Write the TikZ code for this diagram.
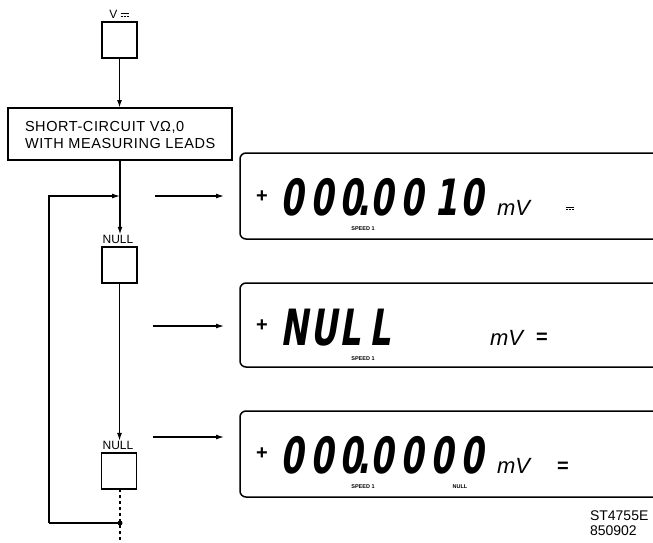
\documentclass[tikz,border=0pt]{standalone}
\usepackage{fontspec}
\setmainfont{Liberation Sans}
\newfontfamily\lcdfont{DejaVu Sans}[FakeStretch=0.66,FakeSlant=0.16]
\usetikzlibrary{arrows.meta,positioning}

% one digit place of the display
\newcommand\lcdcell[2][l]{\makebox[30pt][#1]{#2}}
% direct current sign
\newcommand\dcsym{\raisebox{1.5pt}{\vbox{\hrule width 8pt height 1pt\kern1.4pt
  \hbox to 8pt{\vrule width 2pt height 1pt\hfil\vrule width 2pt height 1pt\hfil\vrule width 2pt height 1pt}}}}

\begin{document}
\begin{tikzpicture}[x=1pt,y=-1pt,
    every node/.style={inner sep=0pt, outer sep=0pt},
    key/.style={draw, line width=1.8pt, minimum width=35pt, minimum height=36pt},
    flow/.style={line width=1.8pt},
    link/.style={line width=1.2pt},
    tip/.style={-{Latex[length=8pt,width=5pt]}},
    frame/.style={line width=1.5pt, rounded corners=6pt},
    keylbl/.style={font=\fontsize{12}{12}\selectfont},
    lcd/.style={font=\lcdfont\bfseries\fontsize{50}{50}\selectfont, anchor=base west, text depth=0pt},
    unit/.style={font=\itshape\fontsize{22}{22}\selectfont, anchor=base west, text depth=0pt},
    sign/.style={font=\bfseries\fontsize{20}{20}\selectfont},
    tag/.style={font=\bfseries\fontsize{5.5}{5.5}\selectfont},
]
\useasboundingbox (0,0) rectangle (653,542);

% === Keys and steps (left column) ===
\node[keylbl] (vlbl) at (119,14) {V\hspace{3pt}\dcsym};
\node[key] (keyV) at (119.5,40) {};
\node[draw, line width=1.5pt, minimum width=224pt, minimum height=52pt] (scbox) at (120,134) {};
\node[font=\fontsize{14.5}{17}\selectfont\addfontfeatures{LetterSpace=4}, align=left, anchor=west] (sctext) at (25,135)
    {SHORT-CIRCUIT VΩ,0\\WITH MEASURING LEADS};
\node[keylbl] (nullB) at (118,239) {NULL};
\node[key] (keyB) at (119.5,265) {};
\node[keylbl] (nullC) at (118,445) {NULL};
\node[key] (keyC) at (119,471) {};

\coordinate (joinA) at (120,196);
\coordinate (dotC) at (120,523);
\coordinate (loopL) at (49,523);
\coordinate (exitC) at (120,542);

% === Flow lines ===
\draw[flow, tip] (keyV.south) -- (keyV.south |- scbox.north);
\draw[flow, tip] (scbox.south) -- (scbox.south |- nullB.north);
\draw[link, tip] (keyB.south) -- (keyB.south |- nullC.north);
\draw[link, dashed] (keyC.south -| dotC) -- (dotC) -- (exitC);
\draw[flow] (dotC) -- (loopL);
\draw[link, tip] (loopL) |- (joinA);
\fill (dotC) circle (2.5pt);

% === Displays ===
\coordinate (dispA) at (240,196);
\coordinate (dispB) at (240,325);
\coordinate (dispC) at (240,454);
\draw[frame] (653,153) -- (240,153) -- (240,239) -- (653,239);
\draw[frame] (653,283) -- (240,283) -- (240,367) -- (653,367);
\draw[frame] (653,411) -- (240,411) -- (240,497) -- (653,497);

\coordinate (outA) at (155,196);
\coordinate (outB) at (153,326);
\coordinate (outC) at (153,437);
\draw[link, tip] (outA) -- ([xshift=-16pt]outA -| dispA);
\draw[link, tip] (outB) -- ([xshift=-16pt]outB -| dispB);
\draw[link, tip] (outC) -- ([xshift=-16pt]outC -| dispC);

% first reading
\node[sign] (plusA) at (262,197) {+};
\node[lcd] (readA) at (280,215) {\lcdcell{0}\lcdcell{0}\lcdcell{0}\llap{.}\lcdcell{0}\lcdcell{0}\lcdcell[r]{1\hspace{3pt}}\lcdcell{0}};
\node[unit] (unitA) at (497,215) {mV};
\node (dcA) at (570,209) {\dcsym};
\node[tag] (spdA) at (363,228.5) {SPEED 1};

% second reading
\node[sign] (plusB) at (262,326) {+};
\node[lcd] (readB) at (280,345) {\lcdcell{N}\lcdcell{U}\lcdcell{L}\lcdcell{L}};
\node[unit] (unitB) at (490,345) {mV};
\node[sign] (eqB) at (542,338) {=};
\node[tag] (spdB) at (363,358.5) {SPEED 1};

% third reading
\node[sign] (plusC) at (262,454) {+};
\node[lcd] (readC) at (280,473) {\lcdcell{0}\lcdcell{0}\lcdcell{0}\llap{.}\lcdcell{0}\lcdcell{0}\lcdcell{0}\lcdcell{0}};
\node[unit] (unitC) at (497,473) {mV};
\node[sign] (eqC) at (563,467) {=};
\node[tag] (spdC) at (363,486.5) {SPEED 1};
\node[tag] (nullT) at (460,486.5) {NULL};

% === Drawing number ===
\node[font=\fontsize{14}{15}\selectfont, align=left, anchor=north west] (ref) at (590,511) {ST4755E\\850902};

\end{tikzpicture}
\end{document}
